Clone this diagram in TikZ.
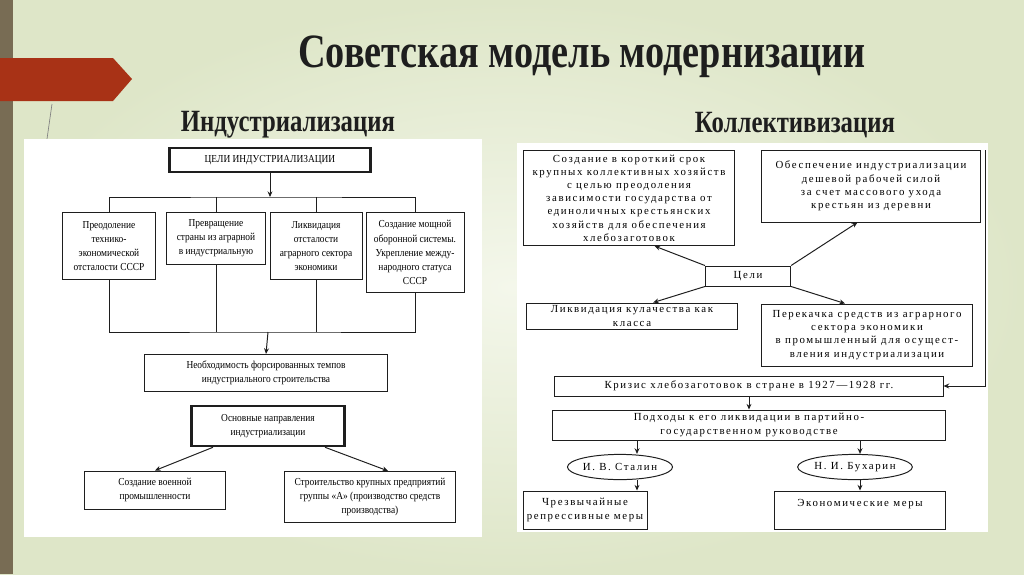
\documentclass[tikz,border=0pt]{standalone}
\usepackage{fontspec}
\setmainfont{Liberation Serif}
\newfontfamily\titlefont[FakeStretch=0.8]{Liberation Serif}
\newfontfamily\leftfont[FakeStretch=0.88]{Liberation Serif}
\newfontfamily\rightfont[LetterSpace=15]{Liberation Serif}
\usetikzlibrary{arrows.meta, positioning, shapes.geometric}
\definecolor{slidebg}{RGB}{222,230,200}
\definecolor{slidelight}{RGB}{244,247,235}
\definecolor{sidebar}{RGB}{120,108,84}
\definecolor{flag}{RGB}{168,50,22}
\definecolor{ink}{RGB}{30,30,30}

\begin{document}
\begin{tikzpicture}[x=0.025cm, y=-0.025cm,
    lbox/.style={draw=ink, line width=0.7pt, fill=white, align=center, inner sep=1pt,
                 text=black, font={\leftfont\fontsize{7.6}{10}\selectfont}},
    lthick/.style={lbox, line width=1.8pt},
    rbox/.style={draw=ink, line width=0.7pt, fill=white, align=center, inner sep=1pt,
                 text=black, font={\rightfont\fontsize{7.7}{9.4}\selectfont}},
    roval/.style={rbox, ellipse, inner sep=0pt},
    conn/.style={draw=ink, line width=0.7pt},
    arr/.style={conn, -{Stealth[length=4pt, width=3.5pt]}}
]
% фон слайда
\useasboundingbox (0,0) rectangle (1024,574);
\shade[inner color=slidelight, outer color=slidebg] (0,0) rectangle (1024,574);
\fill[sidebar] (0,0) rectangle (13,574);
\fill[flag] (0,58) -- (113,58) -- (132,79) -- (113,101) -- (0,101) -- cycle;
\draw[black!50, line width=0.5pt] (52,104) -- (47,139);

% заголовки
\node[font={\titlefont\bfseries\fontsize{34}{40}\selectfont}, text=ink] (title) at (582,57) {Советская модель модернизации};
\node[font={\titlefont\bfseries\fontsize{22}{28}\selectfont}, text=ink] (indtitle) at (288,125) {Индустриализация};
\node[font={\titlefont\bfseries\fontsize{22}{28}\selectfont}, text=ink] (coltitle) at (795,125) {Коллективизация};

% белые поля
\fill[white] (24,139) rectangle (482,537);
\fill[white] (517,143) rectangle (988,532);

% индустриализация
\node[lthick, minimum width=5.03cm, minimum height=0.6cm] (goal) at (270,160) {ЦЕЛИ ИНДУСТРИАЛИЗАЦИИ};
\node[lbox, anchor=north, minimum width=2.3cm, minimum height=1.68cm] (b1) at (109,212)
  {Преодоление\\технико-\\экономической\\отсталости СССР};
\node[lbox, anchor=north, minimum width=2.45cm, minimum height=1.3cm] (b2) at (216,212)
  {Превращение\\страны из аграрной\\в индустриальную};
\node[lbox, anchor=north, minimum width=2.3cm, minimum height=1.68cm] (b3) at (316,212)
  {Ликвидация\\отсталости\\аграрного сектора\\экономики};
\node[lbox, anchor=north, minimum width=2.45cm, minimum height=2.0cm] (b4) at (415,212)
  {Создание мощной\\оборонной системы.\\Укрепление между-\\народного статуса\\СССР};
\node[lbox, minimum width=6.05cm, minimum height=0.93cm] (need) at (266,373)
  {Необходимость форсированных темпов\\индустриального строительства};
\node[lthick, minimum width=3.83cm, minimum height=1cm] (dir) at (268,426)
  {Основные направления\\индустриализации};
\node[lbox, minimum width=3.5cm, minimum height=0.95cm] (mil) at (155,490)
  {Создание военной\\промышленности};
\node[lbox, minimum width=4.25cm, minimum height=1.28cm] (grpA) at (370,497)
  {Строительство крупных предприятий\\группы «А» (производство средств\\производства)};

\coordinate (top) at (270,197);
\coordinate (bot) at (268,332);
\draw[arr] (goal) -- (top);
\draw[conn] (b1.north) |- (top) -| (b4.north);
\draw[conn] (b2.north) -- (b2.north |- top);
\draw[conn] (b3.north) -- (b3.north |- top);
\draw[conn] (b1.south) |- (bot) -| (b4.south);
\draw[conn] (b2.south) -- (b2.south |- bot);
\draw[conn] (b3.south) -- (b3.south |- bot);
\draw[arr] (bot) -- (need.north);
\draw[arr] ([xshift=-1.375cm]dir.south) -- (mil.north);
\draw[arr] ([xshift=1.425cm]dir.south) -- ([xshift=0.45cm]grpA.north);

% коллективизация
\node[rbox, minimum width=5.28cm, minimum height=2.38cm] (r1) at (629,198)
  {Создание в короткий срок\\крупных коллективных хозяйств\\с целью преодоления\\зависимости государства от\\единоличных крестьянских\\хозяйств для обеспечения\\хлебозаготовок};
\node[rbox, minimum width=5.48cm, minimum height=1.8cm] (r2) at (871,186)
  {Обеспечение индустриализации\\дешевой рабочей силой\\за счет массового ухода\\крестьян из деревни};
\node[rbox, minimum width=2.13cm, minimum height=0.5cm] (aims) at (748,276) {Цели};
\node[rbox, minimum width=5.25cm, minimum height=0.65cm] (r3) at (632,316)
  {Ликвидация кулачества как\\класса};
\node[rbox, minimum width=5.25cm, minimum height=1.55cm] (r4) at (867,335)
  {Перекачка средств из аграрного\\сектора экономики\\в промышленный для осущест-\\вления индустриализации};
\node[rbox, minimum width=9.7cm, minimum height=0.5cm] (crisis) at (749,386)
  {Кризис хлебозаготовок в стране в 1927—1928 гг.};
\node[rbox, minimum width=9.8cm, minimum height=0.75cm] (appr) at (749,425)
  {Подходы к его ликвидации в партийно-\\государственном руководстве};
\node[roval, minimum width=2.13cm, minimum height=0.63cm] (stalin) at (620,467) {И. В. Сталин};
\node[roval, minimum width=2.63cm, minimum height=0.63cm] (bukh) at (855,467) {Н. И. Бухарин};
\node[rbox, minimum width=3.1cm, minimum height=0.95cm] (rep) at (585,510)
  {Чрезвычайные\\репрессивные меры};
\node[rbox, minimum width=4.25cm, minimum height=0.95cm] (econ) at (860,510)
  {Экономические меры\\~};

\draw[arr] (aims.north west) -- ([xshift=0.64cm]r1.south);
\draw[arr] (aims.north east) -- ([xshift=-0.34cm]r2.south);
\draw[arr] (aims.south west) -- ([xshift=0.53cm]r3.north);
\draw[arr] (aims.south east) -- ([xshift=-0.55cm]r4.north);
\coordinate (rc) at (985,150);
\draw[arr] (rc) |- (crisis.east);
\draw[arr] (crisis.south) -- (appr.north);
\coordinate (sx) at (637,0);
\coordinate (bx) at (860,0);
\draw[arr] (appr.south -| sx) -- (stalin.north -| sx);
\draw[arr] (appr.south -| bx) -- (bukh.north -| bx);
\draw[arr] (stalin.south -| sx) -- (rep.north -| sx);
\draw[arr] (bukh.south -| bx) -- (econ.north -| bx);
\end{tikzpicture}
\end{document}
